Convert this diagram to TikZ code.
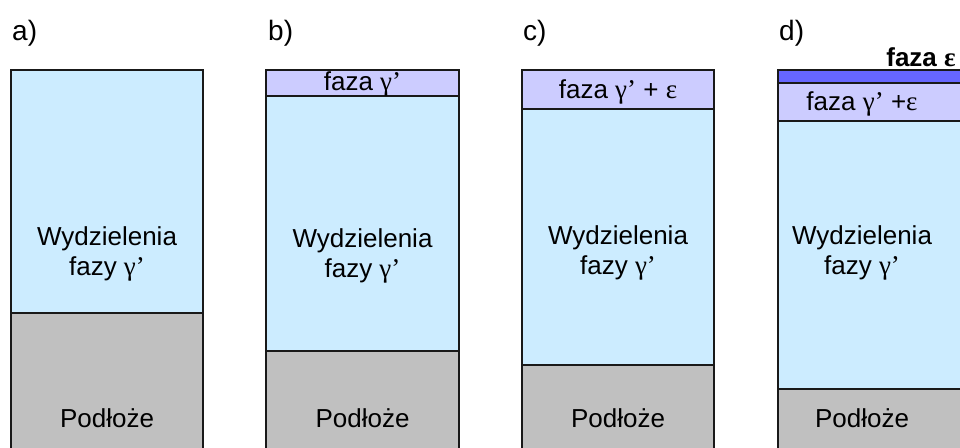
\documentclass[tikz,border=0pt]{standalone}
\usepackage{fontspec}
\setmainfont{Liberation Sans}
\newfontfamily\grkfont{Liberation Serif}
\usetikzlibrary{positioning}

\definecolor{precipblue}{RGB}{204,236,255}
\definecolor{gammaviolet}{RGB}{204,204,255}
\definecolor{epsblue}{RGB}{102,102,255}
\definecolor{substrategray}{RGB}{192,192,192}

\newcommand{\gmp}{{\grkfont\fontsize{27}{30}\selectfont γ’}}
\newcommand{\epsl}{{\grkfont\fontsize{27}{30}\selectfont ε}}

\begin{document}
\begin{tikzpicture}[
	  x=1pt, y=-1pt,
	  font=\fontsize{26}{30}\selectfont,
	  layer/.style={draw=black!90, line width=1.8pt},
	  substrate/.style={layer, fill=substrategray},
	  precip/.style={layer, fill=precipblue},
	  gammalayer/.style={layer, fill=gammaviolet},
	  epslayer/.style={layer, fill=epsblue},
	  tag/.style={anchor=west, inner sep=0pt, font=\fontsize{28}{30}\selectfont},
	  txt/.style={align=center, inner sep=0pt}
	]
	\useasboundingbox (0,0) rectangle (960,447);

	% --- a) ---
	\filldraw[precip] (11,70) rectangle (203,313);
	\filldraw[substrate] (11,313) rectangle (203,470);
	\node[tag] (tagA) at (12,33) {a)};
	\node[txt] (precA) at (107,254) {Wydzielenia\\fazy \gmp};
	\node[txt] (subA) at (107,418) {Podłoże};

	% --- b) ---
	\filldraw[precip] (266,96) rectangle (459,351);
	\filldraw[gammalayer] (266,70) rectangle (459,96);
	\filldraw[substrate] (266,351) rectangle (459,470);
	\node[tag] (tagB) at (268,33) {b)};
	\node[txt] (gamB) at (362.5,84) {faza \gmp};
	\node[txt] (precB) at (362.5,256) {Wydzielenia\\fazy \gmp};
	\node[txt] (subB) at (362.5,418) {Podłoże};

	% --- c) ---
	\filldraw[precip] (522,109) rectangle (714,365);
	\filldraw[gammalayer] (522,70) rectangle (714,109);
	\filldraw[substrate] (522,365) rectangle (714,470);
	\node[tag] (tagC) at (523,33) {c)};
	\node[txt] (gamC) at (618,92) {faza \gmp{} + \epsl};
	\node[txt] (precC) at (618,253) {Wydzielenia\\fazy \gmp};
	\node[txt] (subC) at (618,418) {Podłoże};

	% --- d) ---
	\filldraw[precip] (778,121) rectangle (970,389);
	\filldraw[epslayer] (778,70) rectangle (970,83);
	\filldraw[gammalayer] (778,83) rectangle (970,121);
	\filldraw[substrate] (778,389) rectangle (970,470);
	\node[tag] (tagD) at (779,33) {d)};
	\node[txt, font=\fontsize{26}{30}\selectfont\bfseries] (epsD) at (921,57) {faza \epsl};
	\node[txt] (gamD) at (862,104) {faza \gmp{} +\epsl};
	\node[txt] (precD) at (862,253) {Wydzielenia\\fazy \gmp};
	\node[txt] (subD) at (862,418) {Podłoże};

	\end{tikzpicture}
\end{document}
